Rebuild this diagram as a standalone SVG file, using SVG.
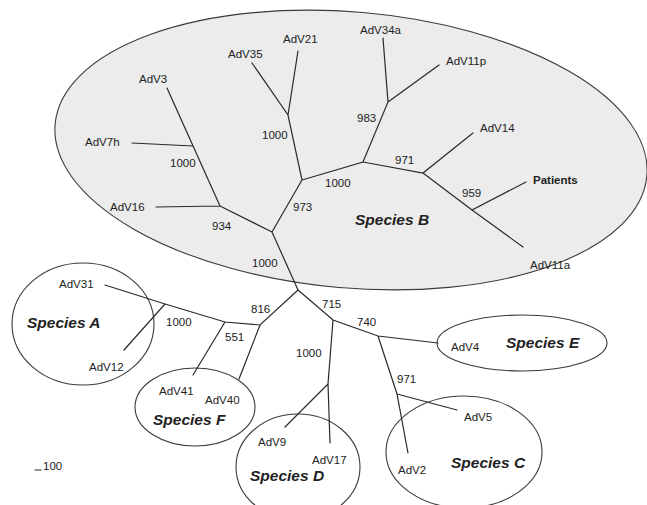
<svg xmlns="http://www.w3.org/2000/svg" width="647" height="505" viewBox="0 0 647 505">
<style>
.bg{fill:#ffffff}
.cl{fill:none;stroke:#3a3a3a;stroke-width:1.1}
.clb{fill:#ececec;stroke:#3a3a3a;stroke-width:1.1}
.br{stroke:#2a2a2a;stroke-width:1.2;fill:none;stroke-linecap:round}
text{font-family:"Liberation Sans",Arial,Helvetica,sans-serif;fill:#222}
.lb{font-size:11.5px}
.bs{font-size:11.5px}
.sp{font-size:15.5px;font-weight:bold;font-style:italic}
.pt{font-size:11.5px;font-weight:bold}
</style>
<rect class="bg" x="0" y="0" width="647" height="505"/>
<g id="species-B"><ellipse class="clb" cx="351" cy="150" rx="297" ry="138" transform="rotate(5 351 150)"/><text class="sp" x="355" y="225">Species B</text></g>
<g id="species-A"><ellipse class="cl" cx="83" cy="324" rx="71" ry="61"/><text class="sp" x="27" y="328">Species A</text></g>
<g id="species-F"><ellipse class="cl" cx="195" cy="407" rx="60" ry="39"/><text class="sp" x="153" y="425">Species F</text></g>
<g id="species-D"><ellipse class="cl" cx="298" cy="467" rx="62" ry="53"/><text class="sp" x="250" y="481">Species D</text></g>
<g id="species-C"><ellipse class="cl" cx="464" cy="452" rx="78" ry="56"/><text class="sp" x="451" y="468">Species C</text></g>
<g id="species-E"><ellipse class="cl" cx="522" cy="343" rx="85" ry="28"/><text class="sp" x="506" y="348">Species E</text></g>
<g id="connectors">
<path class="br" d="M167,88 L220,206 M132,143 L193,146 M156,207 L220,206 M220,206 L272,232 L302,180 L288,115 L252,63 M288,115 L298,51 M302,180 L363,162 L388,102 L383,38 M388,102 L439,65 M363,162 L423,173 L473,133 M423,173 L472,210 L526,182 M472,210 L523,247 M272,232 L298,290"/>
<path class="br" d="M298,290 L260,325 L225,322 L165,304 L105,285 M165,304 L124,350 M225,322 L193,375 M260,325 L239,379 M298,290 L333,320 L378,336 L438,343 M378,336 L397,394 L408,453 M397,394 L457,410 M333,320 L328,384 L330,443 M328,384 L285,427"/>
</g>
<g id="leaves">
<text class="lb" x="139" y="83">AdV3</text>
<text class="lb" x="85" y="146">AdV7h</text>
<text class="lb" x="110" y="211">AdV16</text>
<text class="lb" x="228" y="58">AdV35</text>
<text class="lb" x="283" y="43">AdV21</text>
<text class="lb" x="360" y="34">AdV34a</text>
<text class="lb" x="446" y="65">AdV11p</text>
<text class="lb" x="480" y="132">AdV14</text>
<text class="pt" x="533" y="184">Patients</text>
<text class="lb" x="530" y="269">AdV11a</text>
<text class="lb" x="59" y="288">AdV31</text>
<text class="lb" x="89" y="371">AdV12</text>
<text class="lb" x="159" y="395">AdV41</text>
<text class="lb" x="205" y="404">AdV40</text>
<text class="lb" x="451" y="351">AdV4</text>
<text class="lb" x="464" y="421">AdV5</text>
<text class="lb" x="398" y="474">AdV2</text>
<text class="lb" x="258" y="446">AdV9</text>
<text class="lb" x="312" y="464">AdV17</text>
</g>
<g id="bootstrap">
<text class="bs" x="170" y="167">1000</text>
<text class="bs" x="212" y="230">934</text>
<text class="bs" x="293" y="211">973</text>
<text class="bs" x="262" y="139">1000</text>
<text class="bs" x="325" y="187">1000</text>
<text class="bs" x="357" y="122">983</text>
<text class="bs" x="395" y="164">971</text>
<text class="bs" x="462" y="197">959</text>
<text class="bs" x="252" y="267">1000</text>
<text class="bs" x="251" y="313">816</text>
<text class="bs" x="166" y="326">1000</text>
<text class="bs" x="225" y="341">551</text>
<text class="bs" x="322" y="308">715</text>
<text class="bs" x="357" y="326">740</text>
<text class="bs" x="296" y="357">1000</text>
<text class="bs" x="397" y="383">971</text>
</g>
<g id="scale"><line class="br" x1="35" y1="470" x2="41" y2="470"/><text class="bs" x="43" y="470">100</text></g>
</svg>
